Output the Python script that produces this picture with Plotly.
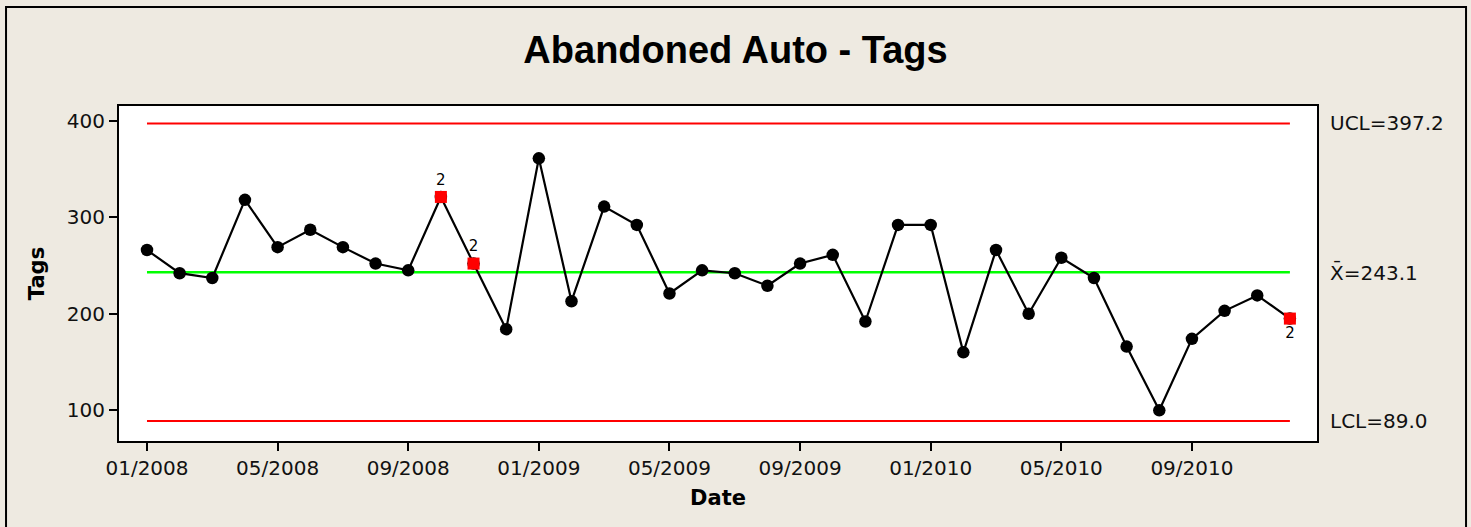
import plotly.graph_objects as go

# ---- data ----
months = [f"{m:02d}/{y}" for y in (2008, 2009, 2010) for m in range(1, 13)]
tags = [266, 242, 237, 318, 269, 287, 269, 252, 245, 321, 252, 184,
        361, 213, 311, 292, 221, 245, 242, 229, 252, 261, 192, 292,
        292, 160, 266, 200, 258, 237, 166, 100, 174, 203, 219, 195]
flagged_idx = [9, 10, 35]          # zero-based positions of flagged points
flag_text = ["2", "2", "2"]
ucl = 397.2
center = 243.1
lcl = 89.0
tick_labels = ["01/2008", "05/2008", "09/2008", "01/2009", "05/2009",
               "09/2009", "01/2010", "05/2010", "09/2010"]
y_ticks = [100, 200, 300, 400]

BG = "#EEEAE1"
FONT = "DejaVu Sans"

fig = go.Figure()

# control limits
fig.add_trace(go.Scatter(x=[months[0], months[-1]], y=[ucl, ucl], mode="lines",
                         line=dict(color="#FF0000", width=2), hoverinfo="skip"))
fig.add_trace(go.Scatter(x=[months[0], months[-1]], y=[lcl, lcl], mode="lines",
                         line=dict(color="#FF0000", width=2), hoverinfo="skip"))
fig.add_trace(go.Scatter(x=[months[0], months[-1]], y=[center, center], mode="lines",
                         line=dict(color="#00FF00", width=2.5), hoverinfo="skip"))

# data line
fig.add_trace(go.Scatter(x=months, y=tags, mode="lines+markers",
                         line=dict(color="black", width=2.2),
                         marker=dict(color="black", size=12.5, symbol="circle")))

# flagged points
fig.add_trace(go.Scatter(
    x=[months[i] for i in flagged_idx], y=[tags[i] for i in flagged_idx],
    mode="markers+text",
    marker=dict(color="#FF0000", size=12, symbol="square"),
    text=flag_text,
    textposition=["top center", "top center", "bottom center"],
    textfont=dict(family=FONT, size=15, color="black")))

# right-side labels
for val, label in [(ucl, "UCL=397.2"), (center, "X\u0304=243.1"), (lcl, "LCL=89.0")]:
    fig.add_annotation(x=1.0092, xref="paper", y=val, yref="y", text=label,
                       showarrow=False, xanchor="left", yanchor="middle",
                       font=dict(family=FONT, size=20, color="#111"))

# outer frame
fig.add_shape(type="rect", xref="paper", yref="paper",
              x0=-0.0943, x1=1.1244, y0=-0.6, y1=1.2955,
              line=dict(color="black", width=2), fillcolor="rgba(0,0,0,0)", layer="below")

fig.update_layout(
    width=1471, height=527,
    paper_bgcolor=BG, plot_bgcolor="white",
    showlegend=False,
    margin=dict(l=119, r=154, t=106, b=86),
    title=dict(text="<b>Abandoned Auto - Tags</b>", x=0.5, xanchor="center",
               y=0.905, yanchor="middle", yref="container",
               font=dict(family="Liberation Sans", size=38, color="black")),
    font=dict(family=FONT, size=20, color="#111"),
)

fig.update_xaxes(type="category", categoryorder="array", categoryarray=months,
                 range=[-0.857, 35.83],
                 tickmode="array", tickvals=tick_labels, ticktext=tick_labels,
                 ticks="outside", ticklen=8, tickwidth=2, tickcolor="black",
                 showline=True, linewidth=2, linecolor="black", mirror=True,
                 showgrid=False, zeroline=False,
                 tickfont=dict(family=FONT, size=20, color="#111"),
                 title=dict(text="<b>Date</b>", standoff=11,
                            font=dict(family=FONT, size=21, color="black")))
fig.update_yaxes(range=[68.2, 415.2], tickvals=y_ticks,
                 ticks="outside", ticklen=8, tickwidth=2, tickcolor="black",
                 showline=True, linewidth=2, linecolor="black", mirror=True,
                 showgrid=False, zeroline=False,
                 tickfont=dict(family=FONT, size=20, color="#111"),
                 title=dict(text="<b>Tags</b>", standoff=16,
                            font=dict(family=FONT, size=21, color="black")))

fig.write_html("out.html",
               config={"displayModeBar": False},
               post_script="document.body.style.margin='0';"
                           "document.body.style.background='" + BG + "';")
